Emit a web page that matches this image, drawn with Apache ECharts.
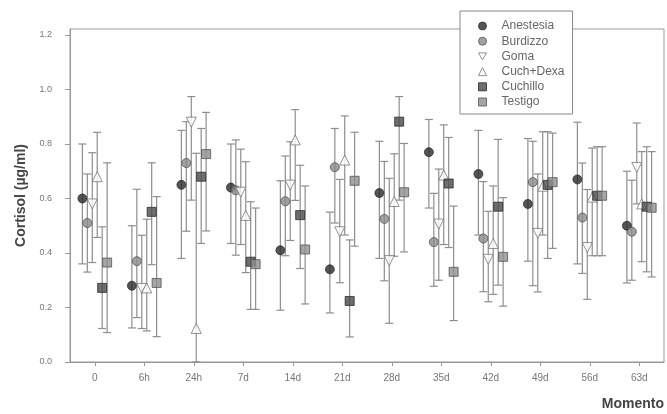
<!DOCTYPE html>
<html>
<head>
<meta charset="utf-8">
<script src="https://cdn.jsdelivr.net/npm/echarts@6/dist/echarts.min.js"></script>
<style>
  html, body { margin: 0; padding: 0; background: #fff; }
  #chart { width: 667px; height: 414px; }
</style>
</head>
<body>
<div id="chart"></div>
<script>
// Sampling moments (x axis) and y-axis tick values
const categories = ['0', '6h', '24h', '7d', '14d', '21d', '28d', '35d', '42d', '49d', '56d', '63d'];
const yTicks = [0, 0.2, 0.4, 0.6, 0.8, 1.0, 1.2];

const groupNames = ['Anestesia', 'Burdizzo', 'Goma', 'Cuch+Dexa', 'Cuchillo', 'Testigo'];

// Cortisol (µg/ml): mean, lower and upper end of each error bar
const anestesiaMean = [0.60, 0.28, 0.65, 0.64, 0.41, 0.34, 0.62, 0.77, 0.69, 0.58, 0.67, 0.50];
const anestesiaLow  = [0.36, 0.125, 0.38, 0.435, 0.19, 0.18, 0.38, 0.565, 0.466, 0.37, 0.36, 0.29];
const anestesiaHigh = [0.80, 0.50, 0.85, 0.80, 0.665, 0.55, 0.81, 0.89, 0.85, 0.82, 0.88, 0.70];

const burdizzoMean = [0.51, 0.37, 0.73, 0.63, 0.59, 0.715, 0.525, 0.44, 0.453, 0.66, 0.53, 0.478];
const burdizzoLow  = [0.33, 0.163, 0.48, 0.392, 0.39, 0.51, 0.298, 0.278, 0.258, 0.28, 0.325, 0.30];
const burdizzoHigh = [0.69, 0.634, 0.882, 0.815, 0.756, 0.857, 0.736, 0.619, 0.662, 0.81, 0.73, 0.667];

const gomaMean = [0.58, 0.27, 0.88, 0.623, 0.649, 0.478, 0.372, 0.506, 0.377, 0.472, 0.42, 0.714];
const gomaLow  = [0.365, 0.123, 0.594, 0.431, 0.446, 0.291, 0.142, 0.30, 0.221, 0.257, 0.23, 0.58];
const gomaHigh = [0.768, 0.465, 0.974, 0.781, 0.808, 0.67, 0.674, 0.708, 0.553, 0.69, 0.633, 0.877];

const cuchDexaMean = [0.68, 0.272, 0.123, 0.538, 0.815, 0.741, 0.589, 0.686, 0.435, 0.645, 0.605, 0.58];
const cuchDexaLow  = [0.457, 0.114, 0.0, 0.328, 0.593, 0.466, 0.388, 0.431, 0.248, 0.466, 0.39, 0.368];
const cuchDexaHigh = [0.843, 0.524, 0.766, 0.735, 0.926, 0.903, 0.764, 0.870, 0.646, 0.845, 0.785, 0.772];

const cuchilloMean = [0.272, 0.551, 0.68, 0.368, 0.539, 0.224, 0.882, 0.655, 0.570, 0.65, 0.61, 0.57];
const cuchilloLow  = [0.123, 0.357, 0.435, 0.193, 0.343, 0.092, 0.594, 0.42, 0.282, 0.38, 0.39, 0.331];
const cuchilloHigh = [0.496, 0.731, 0.857, 0.588, 0.722, 0.448, 0.974, 0.824, 0.817, 0.845, 0.79, 0.79];

const testigoMean = [0.365, 0.29, 0.763, 0.359, 0.413, 0.665, 0.623, 0.331, 0.386, 0.66, 0.61, 0.566];
const testigoLow  = [0.108, 0.093, 0.481, 0.193, 0.213, 0.425, 0.404, 0.152, 0.205, 0.417, 0.39, 0.312];
const testigoHigh = [0.731, 0.607, 0.916, 0.565, 0.646, 0.843, 0.802, 0.572, 0.603, 0.84, 0.79, 0.772];

const FONT = '"Liberation Sans", Arial, sans-serif';
const BAR_COLOR = '#8e8e8e';
const DOWN_TRIANGLE = 'path://M0,0L2,0L1,1.75Z';

// Per-group marker look and horizontal dodge inside each moment
const groups = [
  { name: groupNames[0], mean: anestesiaMean, low: anestesiaLow, high: anestesiaHigh, dodge: -0.25,
    symbol: 'circle', size: 9, style: { color: '#2b2b2b', borderColor: '#1a1a1a', borderWidth: 0.8 } },
  { name: groupNames[1], mean: burdizzoMean, low: burdizzoLow, high: burdizzoHigh, dodge: -0.15,
    symbol: 'circle', size: 9, style: { color: '#8a8a8a', borderColor: '#555', borderWidth: 1 } },
  { name: groupNames[2], mean: gomaMean, low: gomaLow, high: gomaHigh, dodge: -0.05,
    symbol: DOWN_TRIANGLE, size: 10, style: { color: '#fff', borderColor: '#777', borderWidth: 1 } },
  { name: groupNames[3], mean: cuchDexaMean, low: cuchDexaLow, high: cuchDexaHigh, dodge: 0.05,
    symbol: 'triangle', size: 10, style: { color: '#fff', borderColor: '#777', borderWidth: 1 } },
  { name: groupNames[4], mean: cuchilloMean, low: cuchilloLow, high: cuchilloHigh, dodge: 0.15,
    symbol: 'rect', size: 9, style: { color: '#4a4a4a', borderColor: '#2a2a2a', borderWidth: 1 } },
  { name: groupNames[5], mean: testigoMean, low: testigoLow, high: testigoHigh, dodge: 0.25,
    symbol: 'rect', size: 9, style: { color: '#8e8e8e', borderColor: '#555', borderWidth: 1 } }
];

// Vertical whisker with caps, positioned through the axes' scales
function renderErrorBar(params, api) {
  const x = api.value(0);
  const top = api.coord([x, api.value(2)]);
  const bot = api.coord([x, api.value(1)]);
  const half = 4;
  const style = { stroke: BAR_COLOR, lineWidth: 1.2, fill: null };
  return {
    type: 'group',
    children: [
      { type: 'line', shape: { x1: top[0], y1: top[1], x2: bot[0], y2: bot[1] }, style },
      { type: 'line', shape: { x1: top[0] - half, y1: top[1], x2: top[0] + half, y2: top[1] }, style },
      { type: 'line', shape: { x1: bot[0] - half, y1: bot[1], x2: bot[0] + half, y2: bot[1] }, style }
    ]
  };
}

const series = [];
groups.forEach(g => {
  series.push({
    type: 'custom',
    name: g.name + ' (error)',
    renderItem: renderErrorBar,
    encode: { x: 0, y: [1, 2] },
    data: categories.map((_, i) => [i + g.dodge, g.low[i], g.high[i]]),
    clip: false,
    z: 2,
    silent: true
  });
});
groups.forEach(g => {
  series.push({
    type: 'scatter',
    name: g.name,
    symbol: g.symbol,
    symbolSize: g.size,
    itemStyle: g.style,
    data: categories.map((_, i) => [i + g.dodge, g.mean[i]]),
    z: 3
  });
});

const chart = echarts.init(document.getElementById('chart'), null, { renderer: 'canvas' });
chart.setOption({
  animation: false,
  backgroundColor: '#fff',
  grid: {
    left: 70, right: 2, top: 29, bottom: 52,
    show: true, borderColor: '#999', borderWidth: 1, backgroundColor: 'transparent'
  },
  legend: {
    orient: 'vertical',
    left: 460, top: 11,
    backgroundColor: '#fff',
    borderColor: '#888', borderWidth: 1, borderRadius: 0,
    padding: [9, 8, 6, 18],
    itemWidth: 8, itemHeight: 8, itemGap: 3.2,
    textStyle: { fontFamily: FONT, fontSize: 12, color: '#666', padding: [0, 0, 0, 10] },
    data: groups.map(g => ({ name: g.name, icon: g.symbol, itemStyle: g.style })),
    z: 10
  },
  xAxis: {
    type: 'value',
    min: -0.5, max: 11.5,
    name: 'Momento',
    nameLocation: 'end',
    nameGap: 0,
    nameTextStyle: {
      fontFamily: FONT, fontSize: 14, fontWeight: 'bold', color: '#444',
      align: 'right', verticalAlign: 'top', padding: [35, 0, 0, 0]
    },
    axisLine: { onZero: false, lineStyle: { color: '#999', width: 1 } },
    axisTick: { show: true, length: 4, lineStyle: { color: '#999' },
      customValues: categories.map((_, i) => i) },
    axisLabel: {
      customValues: categories.map((_, i) => i),
      formatter: v => categories[Math.round(v)],
      fontFamily: FONT, fontSize: 10, color: '#777', margin: 11
    },
    splitLine: { show: false }
  },
  yAxis: {
    type: 'value',
    min: 0, max: 1.222,
    name: 'Cortisol (µg/ml)',
    nameLocation: 'middle',
    nameGap: 42,
    nameTextStyle: { fontFamily: FONT, fontSize: 14, fontWeight: 'bold', color: '#444' },
    axisLine: { show: true, onZero: false, lineStyle: { color: '#999', width: 1 } },
    axisTick: { show: true, length: 5, lineStyle: { color: '#999' }, customValues: yTicks },
    axisLabel: {
      customValues: yTicks,
      formatter: v => v.toFixed(1),
      fontFamily: FONT, fontSize: 9, color: '#777', margin: 18
    },
    splitLine: { show: false }
  },
  series
});
</script>
</body>
</html>
